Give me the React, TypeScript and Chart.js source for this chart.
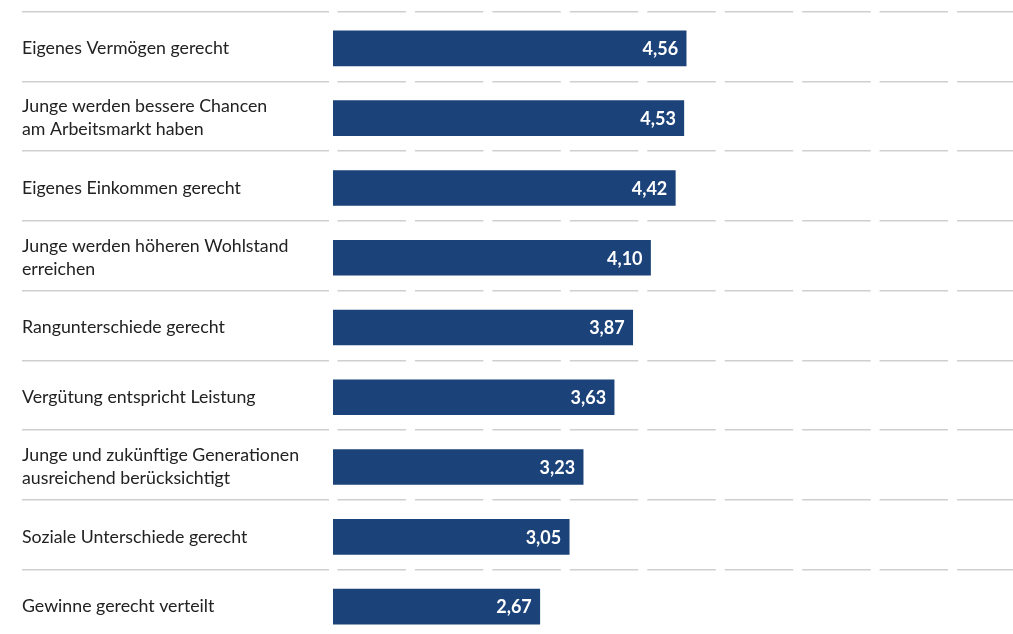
import React, { useEffect, useRef } from "react";
import { Chart, registerables } from "chart.js";

Chart.register(...registerables);

const categories: (string | string[])[] = [
  "Eigenes Vermögen gerecht",
  ["Junge werden bessere Chancen", "am Arbeitsmarkt haben"],
  "Eigenes Einkommen gerecht",
  ["Junge werden höheren Wohlstand", "erreichen"],
  "Rangunterschiede gerecht",
  "Vergütung entspricht Leistung",
  ["Junge und zukünftige Generationen", "ausreichend berücksichtigt"],
  "Soziale Unterschiede gerecht",
  "Gewinne gerecht verteilt",
];

const values: number[] = [4.56, 4.53, 4.42, 4.1, 3.87, 3.63, 3.23, 3.05, 2.67];

const xMax = 9;
const barColor = "#1b4279";
const gridColor = "#cfcfcf";
const rowShift = 2;

const formatValue = (v: number) => v.toFixed(2).replace(".", ",");

const shiftBarsPlugin = {
  id: "shiftBars",
  beforeDatasetsDraw(chart: any) {
    chart.ctx.save();
    chart.ctx.translate(0, rowShift);
  },
  afterDatasetsDraw(chart: any) {
    chart.ctx.restore();
  },
};

const valueLabelPlugin = {
  id: "valueLabels",
  afterDatasetsDraw(chart: any) {
    const { ctx } = chart;
    const meta = chart.getDatasetMeta(0);
    ctx.save();
    ctx.font = "bold 18px Lato";
    ctx.fillStyle = "#ffffff";
    ctx.textAlign = "right";
    ctx.textBaseline = "middle";
    meta.data.forEach((bar: any, i: number) => {
      ctx.fillText(formatValue(values[i]), bar.x - 8, bar.y + rowShift + 1);
    });
    ctx.restore();
  },
};

export default function App() {
  const canvasRef = useRef<HTMLCanvasElement | null>(null);

  useEffect(() => {
    if (!canvasRef.current) return;
    const unitPx = (1030 - 333) / xMax;
    const gap = 9;
    const chart = new Chart(canvasRef.current, {
      type: "bar",
      data: {
        labels: categories,
        datasets: [
          {
            data: values,
            backgroundColor: barColor,
            borderWidth: 0,
            barThickness: 35,
          },
        ],
      },
      plugins: [shiftBarsPlugin, valueLabelPlugin],
      options: {
        indexAxis: "y",
        responsive: false,
        animation: false,
        layout: { padding: { left: 22, top: 11, right: 0, bottom: 6 } },
        plugins: {
          legend: { display: false },
          tooltip: { enabled: false },
        },
        scales: {
          x: {
            display: false,
            min: 0,
            max: xMax,
          },
          y: {
            afterFit: (scale: any) => {
              scale.width = 311;
            },
            border: {
              display: false,
              dash: [unitPx - gap, gap],
              dashOffset: unitPx - gap / 2,
            },
            grid: {
              color: gridColor,
              lineWidth: 1.5,
              offset: true,
              drawTicks: true,
              tickLength: 311,
              tickColor: gridColor,
              tickWidth: 1.5,
              tickBorderDash: [307, 40],
              tickBorderDashOffset: 0,
            },
            ticks: {
              crossAlign: "far",
              color: "#222222",
              padding: 0,
              labelOffset: rowShift,
              font: { family: "Lato", size: 17.75, lineHeight: 1.3 },
            },
          },
        },
      },
    });
    return () => chart.destroy();
  }, []);

  return (
    <div
      style={{
        position: "fixed",
        left: 0,
        top: 0,
        width: 1013,
        height: 634,
        overflow: "hidden",
        background: "#ffffff",
      }}
    >
      <canvas ref={canvasRef} width={1030} height={651} style={{ display: "block" }} />
    </div>
  );
}
